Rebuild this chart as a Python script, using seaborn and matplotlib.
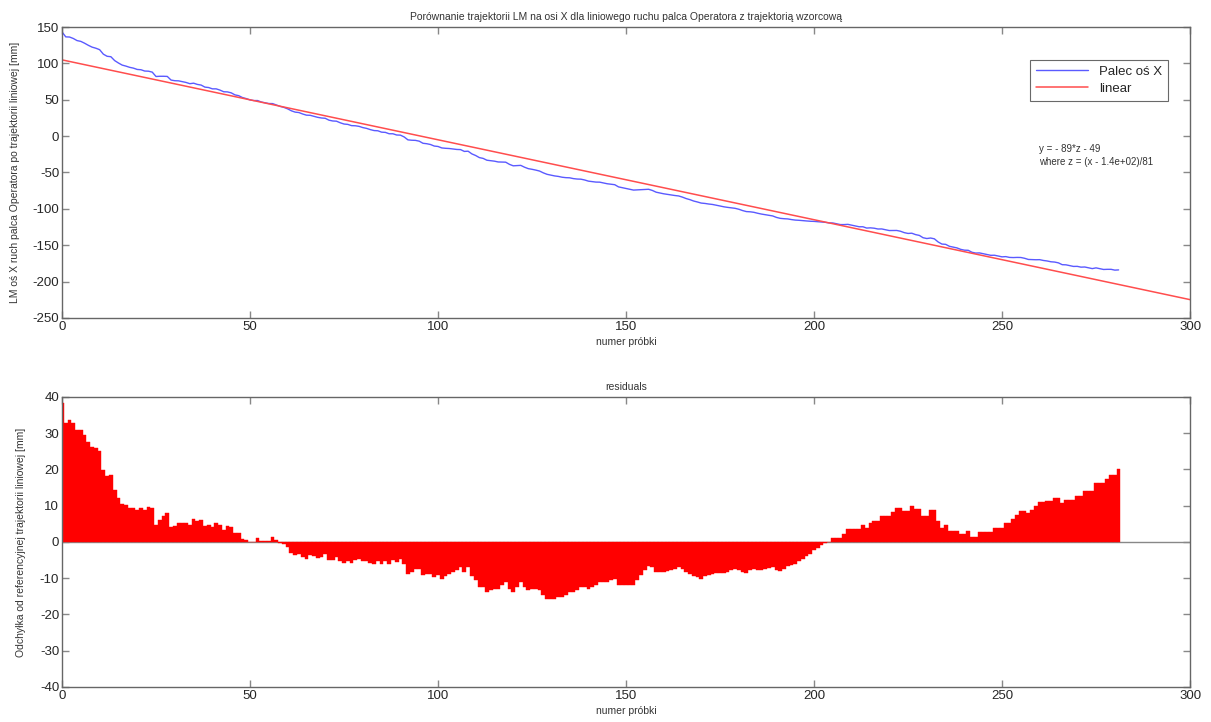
import numpy as np
import seaborn as sns
import matplotlib
matplotlib.use("Agg")
import matplotlib.pyplot as plt

# residuals, one value per sample (0..281)
residuals = [
    38.4, 32.7, 33.6, 32.7, 30.9, 30.9, 29.5, 27.7, 26.3, 25.9,
    25.0, 19.9, 18.1, 18.6, 14.4, 12.2, 10.4, 10.1, 9.5, 9.5,
    8.8, 9.5, 8.8, 9.7, 9.5, 4.6, 6.0, 7.1, 8.0, 4.1,
    4.3, 5.2, 5.2, 5.2, 4.6, 6.4, 5.8, 6.0, 4.3, 4.8,
    4.1, 5.2, 4.6, 3.4, 4.3, 4.1, 2.4, 2.4, 0.9, 0.6,
    -0.1, 0.1, 1.2, 0.3, 0.3, 0.4, 1.4, 0.6, -0.2, -0.5,
    -1.4, -3.0, -3.7, -3.2, -4.1, -4.6, -3.7, -4.0, -4.3, -4.1,
    -3.4, -4.9, -4.9, -4.1, -5.2, -5.8, -5.2, -5.8, -4.9, -4.6,
    -5.2, -5.2, -5.8, -6.0, -5.2, -6.0, -5.2, -6.0, -4.9, -5.5,
    -4.6, -6.0, -8.9, -8.3, -7.4, -7.4, -9.2, -8.7, -8.7, -9.7,
    -9.2, -10.1, -9.5, -8.7, -8.3, -7.8, -6.9, -8.3, -6.9, -9.5,
    -10.6, -12.4, -12.4, -13.8, -13.3, -12.9, -12.9, -12.0, -11.0, -12.9,
    -13.8, -12.4, -11.0, -12.4, -13.3, -13.1, -13.1, -13.3, -14.7, -15.6,
    -15.6, -15.6, -15.2, -15.2, -14.7, -13.8, -13.8, -13.3, -12.4, -12.4,
    -12.9, -12.4, -12.0, -11.0, -11.0, -11.0, -10.6, -10.1, -12.0, -12.0,
    -12.0, -12.0, -12.0, -10.6, -9.2, -7.8, -6.5, -7.0, -8.3, -8.3,
    -8.3, -8.0, -7.8, -7.4, -6.9, -7.4, -8.3, -8.7, -9.5, -9.7,
    -10.1, -9.5, -9.2, -8.7, -8.6, -8.6, -8.6, -8.3, -7.8, -7.4,
    -7.6, -8.3, -8.6, -7.8, -7.4, -7.6, -7.6, -7.4, -7.2, -6.9,
    -7.8, -8.0, -7.4, -6.6, -6.4, -6.0, -5.2, -4.6, -3.9, -3.2,
    -2.3, -1.6, -0.9, -0.3, 0.0, 1.0, 1.0, 1.0, 2.1, 3.5,
    3.5, 3.5, 3.5, 4.6, 3.9, 5.3, 5.9, 5.9, 7.1, 7.1,
    7.1, 8.2, 9.4, 9.4, 8.6, 8.6, 10.0, 9.2, 9.2, 7.1,
    7.1, 8.9, 8.9, 5.7, 3.9, 4.6, 3.0, 3.0, 3.0, 2.1,
    2.1, 3.0, 1.4, 1.4, 2.7, 2.7, 2.7, 2.7, 3.9, 3.9,
    3.9, 5.3, 5.3, 6.2, 7.5, 8.5, 8.5, 8.0, 8.9, 9.8,
    11.0, 11.0, 11.4, 11.4, 12.1, 12.1, 10.7, 11.6, 11.6, 11.6,
    12.8, 12.8, 14.1, 14.1, 14.1, 16.2, 16.2, 16.2, 17.5, 18.6,
    18.6, 20.0,
]
samples = np.arange(len(residuals))

# fitted line from the chart: y = -89*z - 49, z = (x - 1.4e+02)/81
p1, p2 = -89, -49
mu, sigma = 140, 81
fit_x = np.array([0, 300])

def linear(x):
    return p1 * (np.asarray(x) - mu) / sigma + p2

palec = linear(samples) + np.array(residuals)

sns.set_style("ticks")
plt.rcParams['font.family'] = ['Liberation Sans', 'DejaVu Sans']
plt.rcParams['axes.unicode_minus'] = False
plt.rcParams['xtick.direction'] = 'in'
plt.rcParams['ytick.direction'] = 'in'

fig = plt.figure(figsize=(12.11, 7.22), dpi=100)
ax1 = fig.add_axes([0.0512, 0.5596, 0.9315, 0.403])
ax2 = fig.add_axes([0.0512, 0.0485, 0.9315, 0.4017])

# upper panel
sns.lineplot(x=samples, y=palec, ax=ax1, color='#5a5aff', linewidth=1, label='Palec oś X')
sns.lineplot(x=fit_x, y=linear(fit_x), ax=ax1, color='#ff4d4d', linewidth=1.1, label='linear')
ax1.set_xlim(0, 300)
ax1.set_ylim(-250, 150)
ax1.set_yticks(range(-250, 151, 50))
ax1.set_title('Porównanie trajektorii LM na osi X dla liniowego ruchu palca Operatora z trajektorią wzorcową',
              fontsize=7.5, color='#333333', pad=5)
ax1.set_xlabel('numer próbki', fontsize=7.5, color='#333333', labelpad=3)
ax1.set_ylabel('LM oś X ruch palca Operatora po trajektorii liniowej [mm]', fontsize=7.5, color='#333333', labelpad=9)
leg = ax1.legend(loc='upper right', bbox_to_anchor=(0.9805, 0.887), borderaxespad=0, fontsize=9.5,
                 frameon=True, fancybox=False, handlelength=4, borderpad=0.45, labelspacing=0.35)
leg.get_frame().set_edgecolor('#444444')
leg.get_frame().set_linewidth(0.8)
ax1.text(0.866, 0.597, 'y = - 89*z - 49\nwhere z = (x - 1.4e+02)/81', transform=ax1.transAxes,
         fontsize=7, color='#333333', va='top', linespacing=1.3)

# lower panel: residuals
ax2.bar(samples, residuals, width=1.0, color='#ff0000', edgecolor='#ff0000', linewidth=0.3)
ax2.axhline(0, color='#888888', linewidth=1, zorder=0)
ax2.set_xlim(0, 300)
ax2.set_ylim(-40, 40)
ax2.set_yticks(range(-40, 41, 10))
ax2.set_title('residuals', fontsize=7.5, color='#333333', pad=5)
ax2.set_xlabel('numer próbki', fontsize=7.5, color='#333333', labelpad=3)
ax2.set_ylabel('Odchyłka od referencyjnej trajektorii liniowej [mm]', fontsize=7.5, color='#333333', labelpad=10)

for ax in (ax1, ax2):
    ax.set_xticks(range(0, 301, 50))
    ax.tick_params(labelsize=9.5, length=5, width=1, color='#888888', top=True, right=True, pad=2)
    for sp in ax.spines.values():
        sp.set_visible(True)
        sp.set_color('#666666')
        sp.set_linewidth(1)

fig.savefig('out.png', dpi=100)
